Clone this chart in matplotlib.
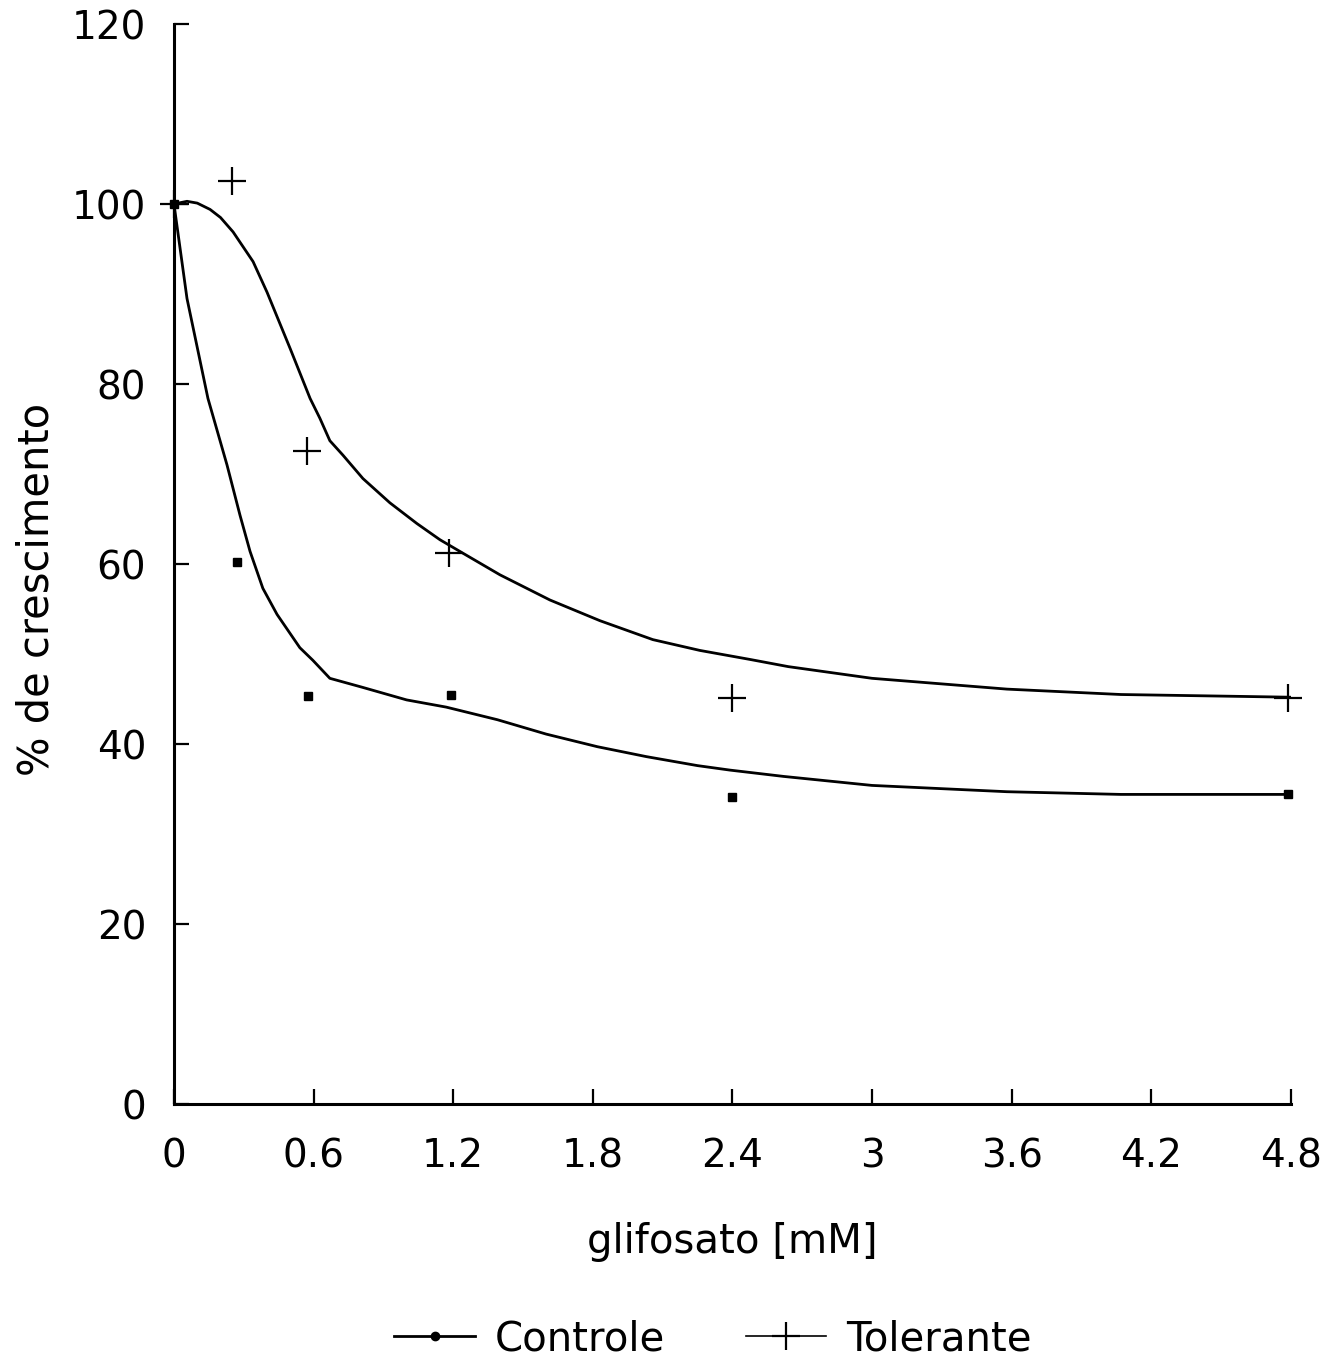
import matplotlib
matplotlib.use("Agg")
import matplotlib.pyplot as plt
from matplotlib.lines import Line2D

# Data points
controle_x = [0.0, 0.27, 0.575, 1.19, 2.40, 4.79]
controle_y = [100.0, 60.2, 45.3, 45.4, 34.1, 34.4]
tolerante_x = [0.0, 0.25, 0.57, 1.18, 2.40, 4.79]
tolerante_y = [100.0, 102.6, 72.6, 61.2, 45.1, 45.1]

# Fitted curves
controle_curve_x = [0.0, 0.056, 0.146, 0.228, 0.284, 0.327, 0.382, 0.443, 0.541, 0.597,
                    0.67, 0.81, 1.0, 1.17, 1.39, 1.60, 1.82, 2.03, 2.25, 2.39,
                    2.62, 3.0, 3.58, 4.07, 4.80]
controle_curve_y = [100.0, 89.5, 78.4, 71.0, 65.4, 61.4, 57.3, 54.4, 50.7, 49.3,
                    47.3, 46.3, 44.9, 44.1, 42.7, 41.1, 39.7, 38.6, 37.6, 37.1,
                    36.4, 35.4, 34.7, 34.4, 34.4]
tolerante_curve_x = [0.0, 0.056, 0.10, 0.155, 0.20, 0.254, 0.34, 0.40, 0.50, 0.585,
                     0.627, 0.67, 0.726, 0.812, 0.928, 1.044, 1.143, 1.242, 1.401, 1.616,
                     1.831, 2.058, 2.26, 2.475, 2.64, 3.0, 3.58, 4.07, 4.56, 4.80]
tolerante_curve_y = [100.0, 100.3, 100.1, 99.4, 98.5, 96.9, 93.6, 90.2, 83.9, 78.4,
                     76.2, 73.7, 72.1, 69.5, 66.8, 64.5, 62.7, 61.2, 58.8, 56.0,
                     53.7, 51.6, 50.4, 49.4, 48.6, 47.3, 46.1, 45.5, 45.3, 45.2]

xticks = [0, 0.6, 1.2, 1.8, 2.4, 3.0, 3.6, 4.2, 4.8]
xtick_labels = ["0", "0.6", "1.2", "1.8", "2.4", "3", "3.6", "4.2", "4.8"]
yticks = [0, 20, 40, 60, 80, 100, 120]

plt.rcParams['font.family'] = ['DejaVu Sans']

fig = plt.figure(figsize=(13.28, 13.64), dpi=100)
ax = fig.add_axes([0.131, 0.1906, 0.841, 0.7918])

ax.plot(controle_curve_x, controle_curve_y, color='black', lw=2.0,
        solid_capstyle='round', solid_joinstyle='round')
ax.plot(tolerante_curve_x, tolerante_curve_y, color='black', lw=2.0,
        solid_capstyle='round', solid_joinstyle='round')
ax.plot(controle_x, controle_y, linestyle='none', marker='s', ms=6, color='black', clip_on=False)
ax.plot(tolerante_x, tolerante_y, linestyle='none', marker='+', ms=20, mew=1.6, color='black', clip_on=False)

ax.set_xlim(0, 4.8)
ax.set_ylim(0, 120)
ax.set_xticks(xticks)
ax.set_xticklabels(xtick_labels)
ax.set_yticks(yticks)

for s in ['top', 'right']:
    ax.spines[s].set_visible(False)
for s in ['left', 'bottom']:
    ax.spines[s].set_linewidth(2.2)

ax.tick_params(axis='both', direction='in', length=11, width=1.6, labelsize=28, color='black')
ax.tick_params(axis='x', pad=24)
ax.tick_params(axis='y', pad=20)

ax.set_xlabel("glifosato [mM]", fontsize=29)
ax.set_ylabel("% de crescimento", fontsize=30)
ax.xaxis.set_label_coords(0.5, -0.109)
ax.yaxis.set_label_coords(-0.104, 0.476)

h1 = Line2D([], [], color='black', lw=2.0, marker='o', ms=6)
h2 = Line2D([], [], color='black', lw=1.2, marker='+', ms=20, mew=1.6)
fig.legend([h1, h2], ["Controle", "Tolerante"], loc='center', bbox_to_anchor=(0.537, 0.018),
           ncol=2, frameon=False, fontsize=29, handlelength=2.0, handletextpad=0.5,
           columnspacing=2.0)

fig.savefig("out.png", dpi=100)
